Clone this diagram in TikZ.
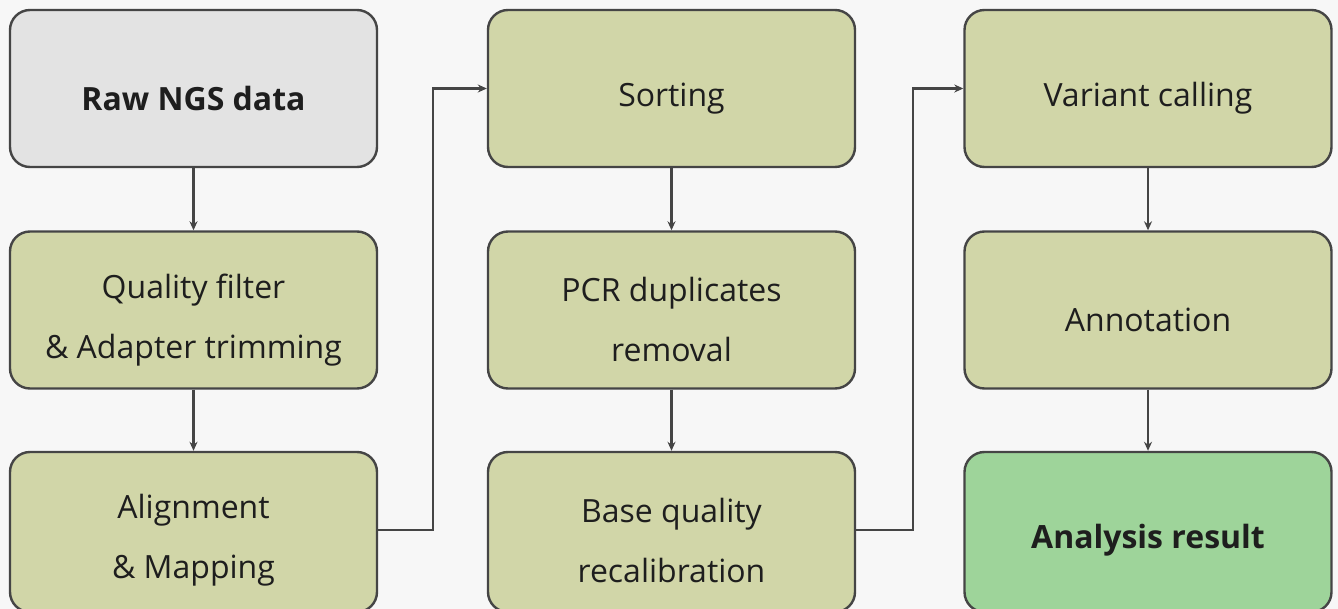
\documentclass[tikz,border=0pt]{standalone}
\usepackage{fontspec}
\setmainfont{Open Sans}
\usetikzlibrary{arrows.meta}
\definecolor{bg}{HTML}{F7F7F7}
\definecolor{olive}{HTML}{D1D6A8}
\definecolor{rawgray}{HTML}{E3E3E3}
\definecolor{resgreen}{HTML}{9ED49A}
\definecolor{edge}{HTML}{454545}
\definecolor{txt}{HTML}{1E1E1E}
\tikzset{
  stepbox/.style={draw=edge, line width=2.4pt, fill=olive, rounded corners=20pt,
    minimum width=367pt, minimum height=157pt, inner sep=0pt},
  lab/.style={align=center, text=txt, yshift=-10pt, inner sep=0pt,
    font=\fontsize{32}{60}\selectfont},
  boldlab/.style={lab, font=\fontsize{32}{60}\selectfont\bfseries},
  arr/.style={draw=edge, line width=2.2pt, -{Stealth[length=9pt,width=8pt]}}
}
\begin{document}
\begin{tikzpicture}[x=1pt,y=-1pt]
\fill[bg] (0,0) rectangle (1338,609);
\useasboundingbox (0,0) rectangle (1338,609);
\node[stepbox, fill=rawgray, label={[boldlab]center:Raw NGS data}] (raw) at (193.5,88.5) {};
\node[stepbox, label={[lab]center:{Quality filter\\ \& Adapter trimming}}] (qual) at (193.5,310) {};
\node[stepbox, minimum height=160pt, label={[lab,yshift=2pt]center:{Alignment\\ \& Mapping}}] (align) at (193.5,532) {};
\node[stepbox, label={[lab]center:Sorting}] (sort) at (671.5,88.5) {};
\node[stepbox, label={[lab]center:{PCR duplicates\\ removal}}] (pcr) at (671.5,310) {};
\node[stepbox, minimum height=160pt, label={[lab,yshift=2pt]center:{Base quality\\ recalibration}}] (base) at (671.5,532) {};
\node[stepbox, label={[lab]center:Variant calling}] (var) at (1148,88.5) {};
\node[stepbox, label={[lab]center:Annotation}] (anno) at (1148,310) {};
\node[stepbox, minimum height=160pt, fill=resgreen, label={[boldlab,yshift=2pt]center:Analysis result}] (res) at (1148,532) {};
\draw[arr] (raw) -- (qual);
\draw[arr] (qual) -- (align);
\draw[arr] (sort) -- (pcr);
\draw[arr] (pcr) -- (base);
\draw[arr] (var) -- (anno);
\draw[arr] (anno) -- (res);
\draw[arr] (align.east |- 0,530) -- ++(55,0) |- (sort.west);
\draw[arr] (base.east |- 0,530) -- ++(57,0) |- (var.west);
\end{tikzpicture}
\end{document}
